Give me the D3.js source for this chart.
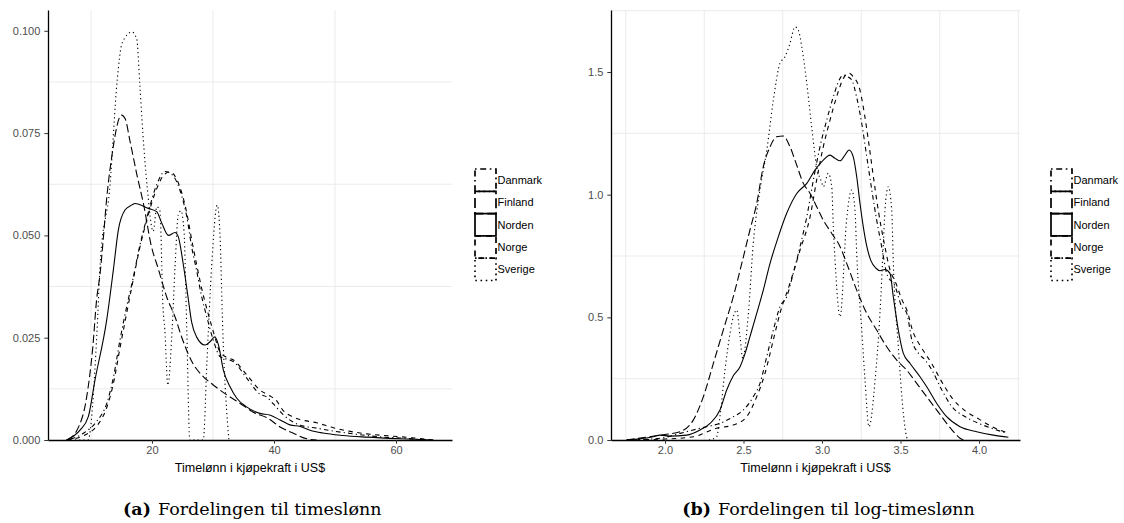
<!DOCTYPE html>
<html>
<head>
<meta charset="utf-8">
<script src="https://cdn.jsdelivr.net/npm/d3@7"></script>
<style>
  body { margin: 0; background: #fff; }
  svg { display: block; }
  .tick text { font-family: "Liberation Sans", Arial, sans-serif; }
</style>
</head>
<body>
<svg id="fig" width="1124" height="523"></svg>
<script>
// Countries shown in both panels, in legend order
const countries = ["Danmark", "Finland", "Norden", "Norge", "Sverige"];

// Panel (a): density of hourly wage (purchasing power, US$)
const wageDanmark = [[6.0,0],[8.7,0.0016],[10.9,0.0045],[12.6,0.009],[13.7,0.0155],[14.75,0.0244],[15.85,0.0326],[16.9,0.0395],[18.0,0.0475],[19.1,0.054],[20.8,0.0625],[22.1,0.0656],[23.0,0.0652],[24.05,0.0631],[24.9,0.0595],[25.7,0.0546],[26.5,0.0472],[27.3,0.0415],[28.15,0.035],[29.0,0.030],[30.05,0.0244],[31.15,0.0204],[32.2,0.0198],[33.3,0.0192],[35.5,0.0152],[37.7,0.0112],[38.8,0.0105],[39.9,0.0088],[41.5,0.0062],[43.0,0.0045],[44.3,0.0036],[47.0,0.0029],[49.7,0.0022],[52.5,0.0016],[55.2,0.0011],[58.0,0.0007],[60.7,0.0005],[63.5,0.0002],[66.1,0]];
const wageFinland = [[6.1,0],[7.7,0.0024],[9.3,0.0106],[10.3,0.0228],[10.9,0.034],[11.5,0.0408],[12.0,0.0489],[12.55,0.0587],[13.4,0.0692],[15.0,0.0794],[15.6,0.0785],[16.4,0.073],[17.5,0.065],[18.7,0.057],[19.8,0.048],[21.1,0.0415],[22.4,0.035],[23.8,0.030],[24.9,0.025],[26.6,0.019],[28.4,0.0155],[30.0,0.0135],[32.3,0.011],[34.4,0.009],[36.6,0.0068],[38.9,0.0054],[41.0,0.0032],[43.1,0.0017],[45.4,0.0003],[47.0,0]];
const wageNorden = [[6.0,0],[8.2,0.0024],[9.56,0.0057],[10.66,0.0147],[12.57,0.0293],[13.66,0.0415],[14.48,0.0513],[15.57,0.0562],[16.67,0.0574],[17.21,0.0578],[19.4,0.0566],[20.77,0.0558],[21.6,0.053],[22.7,0.050],[23.77,0.0507],[24.3,0.0497],[25.1,0.0432],[25.9,0.035],[26.5,0.0288],[27.3,0.0252],[28.7,0.0232],[29.5,0.024],[30.3,0.0252],[30.9,0.0232],[31.7,0.0171],[32.8,0.013],[33.9,0.0102],[35.5,0.0081],[37.7,0.0065],[39.3,0.0061],[41.0,0.0049],[42.6,0.0037],[44.3,0.0033],[45.9,0.0024],[48.0,0.0017],[51.3,0.0011],[55.2,0.0007],[60.7,0.0003],[66.1,0]];
const wageNorge = [[6.0,0],[9.0,0.0012],[11.0,0.0035],[12.6,0.008],[13.7,0.014],[14.75,0.0225],[15.85,0.031],[16.9,0.039],[18.0,0.047],[19.1,0.0535],[20.8,0.0615],[22.1,0.065],[23.0,0.0655],[24.05,0.0637],[24.9,0.0603],[25.7,0.0555],[26.5,0.049],[27.3,0.043],[28.15,0.037],[29.0,0.032],[30.05,0.0265],[31.15,0.0215],[32.2,0.0202],[33.3,0.0196],[35.5,0.016],[37.7,0.0122],[39.3,0.0108],[40.3,0.0098],[41.5,0.0072],[43.0,0.0057],[44.3,0.005],[47.0,0.0042],[49.7,0.003],[52.5,0.0021],[55.2,0.0015],[58.0,0.0011],[60.7,0.0008],[63.5,0.0004],[66.1,0]];
const wageSverige = [[6.0,0],[9.5,0],[11.0,0.027],[11.5,0.043],[13.1,0.062],[14.3,0.088],[15.1,0.097],[16.7,0.0997],[17.5,0.098],[18.0,0.087],[18.5,0.075],[19.2,0.062],[20.2,0.051],[20.8,0.057],[21.3,0.056],[21.8,0.0325],[22.1,0.027],[22.6,0.0134],[23.3,0.027],[23.8,0.043],[24.3,0.055],[24.75,0.056],[25.25,0.051],[25.7,0.027],[26.2,0],[28.4,0],[29.0,0.019],[29.8,0.043],[30.7,0.0574],[31.15,0.05],[31.6,0.027],[32.6,0]];

// Panel (b): density of log hourly wage
const logDanmark = [[1.756,0],[1.968,0.007],[2.096,0.027],[2.18,0.041],[2.265,0.054],[2.35,0.068],[2.435,0.095],[2.499,0.122],[2.562,0.176],[2.605,0.231],[2.648,0.34],[2.69,0.448],[2.732,0.543],[2.775,0.584],[2.817,0.679],[2.86,0.788],[2.903,0.91],[2.945,1.06],[2.987,1.195],[3.03,1.304],[3.072,1.399],[3.115,1.474],[3.136,1.488],[3.16,1.482],[3.19,1.467],[3.22,1.399],[3.253,1.29],[3.285,1.155],[3.317,1.019],[3.348,0.897],[3.38,0.788],[3.412,0.679],[3.466,0.625],[3.508,0.543],[3.54,0.516],[3.572,0.408],[3.615,0.353],[3.657,0.326],[3.7,0.285],[3.763,0.204],[3.827,0.136],[3.912,0.095],[3.997,0.068],[4.08,0.048],[4.18,0.027]];
const logFinland = [[1.756,0],[1.968,0.02],[2.096,0.034],[2.18,0.081],[2.244,0.176],[2.308,0.312],[2.371,0.448],[2.435,0.584],[2.489,0.72],[2.541,0.856],[2.584,0.964],[2.626,1.114],[2.669,1.195],[2.711,1.236],[2.753,1.239],[2.796,1.195],[2.839,1.12],[2.881,1.046],[2.924,1.005],[2.966,0.951],[3.008,0.896],[3.062,0.842],[3.115,0.788],[3.157,0.72],[3.221,0.611],[3.285,0.516],[3.348,0.448],[3.412,0.38],[3.476,0.326],[3.539,0.285],[3.603,0.231],[3.667,0.176],[3.731,0.122],[3.794,0.068],[3.847,0.027],[3.879,0.007],[3.9,0]];
const logNorden = [[1.756,0],[1.925,0.013],[1.968,0.02],[2.032,0.016],[2.138,0.02],[2.223,0.041],[2.287,0.068],[2.35,0.122],[2.393,0.204],[2.435,0.262],[2.478,0.299],[2.51,0.353],[2.541,0.421],[2.584,0.516],[2.626,0.611],[2.669,0.72],[2.722,0.829],[2.775,0.924],[2.839,1.005],[2.903,1.046],[2.955,1.1],[3.008,1.141],[3.051,1.161],[3.083,1.148],[3.115,1.138],[3.146,1.161],[3.172,1.182],[3.199,1.154],[3.221,1.073],[3.242,0.964],[3.263,0.869],[3.285,0.79],[3.312,0.73],[3.344,0.70],[3.369,0.69],[3.401,0.695],[3.433,0.679],[3.454,0.584],[3.486,0.448],[3.518,0.353],[3.561,0.312],[3.624,0.258],[3.667,0.217],[3.731,0.149],[3.794,0.095],[3.879,0.054],[3.985,0.034],[4.091,0.02],[4.187,0.011]];
const logNorge = [[1.756,0],[2.0,0.004],[2.18,0.013],[2.329,0.048],[2.435,0.061],[2.52,0.095],[2.584,0.176],[2.637,0.272],[2.69,0.408],[2.732,0.516],[2.796,0.639],[2.86,0.774],[2.924,0.91],[2.966,1.06],[3.008,1.195],[3.051,1.304],[3.093,1.399],[3.136,1.474],[3.172,1.495],[3.2,1.48],[3.24,1.43],[3.27,1.33],[3.3,1.2],[3.33,1.06],[3.36,0.93],[3.4,0.79],[3.43,0.7],[3.47,0.64],[3.51,0.57],[3.54,0.53],[3.58,0.44],[3.62,0.39],[3.66,0.35],[3.7,0.31],[3.76,0.24],[3.83,0.17],[3.91,0.12],[4.0,0.085],[4.08,0.055],[4.18,0.03]];
const logSverige = [[2.28,0],[2.329,0.013],[2.35,0.095],[2.382,0.285],[2.414,0.435],[2.435,0.502],[2.457,0.53],[2.478,0.42],[2.495,0.333],[2.531,0.516],[2.562,0.8],[2.605,1.02],[2.648,1.18],[2.69,1.385],[2.732,1.535],[2.764,1.562],[2.796,1.617],[2.828,1.684],[2.849,1.671],[2.871,1.603],[2.903,1.453],[2.934,1.277],[2.966,1.114],[2.998,1.05],[3.008,1.032],[3.04,1.087],[3.062,1.032],[3.072,0.869],[3.083,0.733],[3.115,0.502],[3.157,0.9],[3.189,1.019],[3.21,0.937],[3.221,0.76],[3.253,0.448],[3.274,0.244],[3.299,0.054],[3.338,0.244],[3.369,0.516],[3.39,0.788],[3.401,0.937],[3.422,1.032],[3.444,0.937],[3.454,0.725],[3.486,0.38],[3.518,0.109],[3.539,0.013],[3.55,0]];

// Axis ticks
const wageXTicks = [20, 40, 60];
const wageYTicks = [0, 0.025, 0.05, 0.075, 0.1];
const logXTicks = [2.0, 2.5, 3.0, 3.5, 4.0];
const logYTicks = [0, 0.5, 1.0, 1.5];
// Minor grid lines
const wageXGrid = [10, 30, 50];
const wageYGrid = [0.0125, 0.0375, 0.0625, 0.0875];
const logXGrid = [1.75, 2.25, 2.75, 3.25, 3.75, 4.25];
const logYGrid = [0.25, 0.75, 1.25, 1.75];

const xTitle = "Timelønn i kjøpekraft i US$";

// Line type per country (dotdash, longdash, solid, dashed, dotted)
const dash = {
  Danmark: "1.2,3.2,4.6,3.2",
  Finland: "8,3.5",
  Norden: null,
  Norge: "4.5,4.5",
  Sverige: "1.2,3"
};
const keyDash = {
  Danmark: "1.6,3.6,6,3.6",
  Finland: "10,4",
  Norden: null,
  Norge: "6,5",
  Sverige: "1.6,3.6"
};

const svg = d3.select("#fig");

function drawPanel(cfg) {
  const g = svg.append("g");
  const x = d3.scaleLinear().domain(cfg.xDomain).range([cfg.left, cfg.right]);
  const y = d3.scaleLinear().domain(cfg.yDomain).range([cfg.bottom, cfg.top]);

  // minor grid
  g.append("g").selectAll("line.v").data(cfg.xGrid.filter(v => x(v) <= cfg.right + 0.5))
    .join("line")
    .attr("x1", d => x(d)).attr("x2", d => x(d))
    .attr("y1", cfg.top).attr("y2", cfg.bottom)
    .attr("stroke", "#ebebeb").attr("stroke-width", 1);
  g.append("g").selectAll("line.h").data(cfg.yGrid.filter(v => y(v) >= cfg.top - 0.5))
    .join("line")
    .attr("x1", cfg.left).attr("x2", cfg.right)
    .attr("y1", d => y(d)).attr("y2", d => y(d))
    .attr("stroke", "#ebebeb").attr("stroke-width", 1);

  // density curves
  const line = d3.line().x(d => x(d[0])).y(d => y(d[1])).curve(d3.curveMonotoneX);
  countries.forEach(c => {
    g.append("path")
      .datum(cfg.series[c])
      .attr("d", line)
      .attr("fill", "none")
      .attr("stroke", "#000")
      .attr("stroke-width", 1.1)
      .attr("stroke-dasharray", dash[c]);
  });

  // axes
  const xAxis = d3.axisBottom(x).tickValues(cfg.xTicks).tickFormat(cfg.xFormat)
    .tickSizeInner(3.7).tickSizeOuter(0).tickPadding(2.5);
  const yAxis = d3.axisLeft(y).tickValues(cfg.yTicks).tickFormat(cfg.yFormat)
    .tickSizeInner(3.7).tickSizeOuter(0).tickPadding(4);
  const gx = g.append("g").attr("transform", `translate(0,${cfg.bottom})`).call(xAxis);
  const gy = g.append("g").attr("transform", `translate(${cfg.left},0)`).call(yAxis);
  [gx, gy].forEach(a => {
    a.select(".domain").attr("stroke", "#000").attr("stroke-width", 1.3);
    a.selectAll(".tick line").attr("stroke", "#333").attr("stroke-width", 1);
    a.selectAll(".tick text").attr("fill", "#4d4d4d").attr("font-size", 11);
  });

  // x-axis title
  g.append("text")
    .attr("x", (cfg.left + cfg.right) / 2).attr("y", 472)
    .attr("text-anchor", "middle")
    .attr("font-family", "Liberation Sans, Arial, sans-serif")
    .attr("font-size", 12.5)
    .attr("fill", "#000")
    .text(xTitle);

  // legend
  const keyH = 22.3, keyW = 21, keyTop = 169;
  const lg = g.append("g");
  countries.forEach((c, i) => {
    lg.append("rect")
      .attr("x", cfg.legendX).attr("y", keyTop + i * keyH)
      .attr("width", keyW).attr("height", keyH)
      .attr("fill", "none").attr("stroke", "#000")
      .attr("stroke-width", 1.7)
      .attr("stroke-dasharray", keyDash[c]);
    lg.append("text")
      .attr("x", cfg.legendX + keyW + 1.5).attr("y", keyTop + i * keyH + keyH / 2)
      .attr("dy", "0.35em")
      .attr("font-family", "Liberation Sans, Arial, sans-serif")
      .attr("font-size", 11)
      .attr("fill", "#000")
      .text(c);
  });

  // sub-caption
  g.append("text")
    .attr("x", cfg.capX - 7).attr("y", 515)
    .attr("text-anchor", "end")
    .attr("font-family", "DejaVu Serif, serif")
    .attr("font-weight", "bold")
    .attr("font-size", 17.5)
    .text(cfg.capLabel);
  g.append("text")
    .attr("x", cfg.capX).attr("y", 515)
    .attr("font-family", "DejaVu Serif, serif")
    .attr("font-size", 17.5)
    .text(cfg.capText);
}

drawPanel({
  left: 48, right: 452, top: 10, bottom: 440,
  xDomain: [2.951, 69.18], yDomain: [0, 0.10508],
  xTicks: wageXTicks, yTicks: wageYTicks,
  xFormat: d3.format("d"), yFormat: d3.format(".3f"),
  xGrid: wageXGrid, yGrid: wageYGrid,
  series: { Danmark: wageDanmark, Finland: wageFinland, Norden: wageNorden, Norge: wageNorge, Sverige: wageSverige },
  legendX: 475,
  capX: 158, capLabel: "(a)", capText: "Fordelingen til timeslønn"
});

drawPanel({
  left: 611, right: 1020, top: 10, bottom: 440,
  xDomain: [1.656, 4.261], yDomain: [0, 1.7527],
  xTicks: logXTicks, yTicks: logYTicks,
  xFormat: d3.format(".1f"), yFormat: d3.format(".1f"),
  xGrid: logXGrid, yGrid: logYGrid,
  series: { Danmark: logDanmark, Finland: logFinland, Norden: logNorden, Norge: logNorge, Sverige: logSverige },
  legendX: 1051,
  capX: 718, capLabel: "(b)", capText: "Fordelingen til log-timeslønn"
});
</script>
</body>
</html>
